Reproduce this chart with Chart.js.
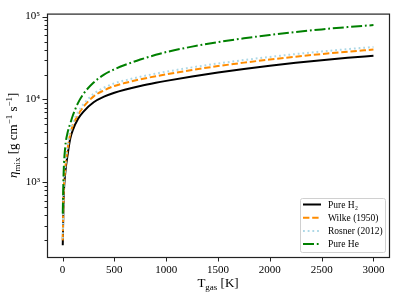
<!DOCTYPE html>
<html>
<head>
<meta charset="utf-8">
<script src="https://cdn.jsdelivr.net/npm/chart.js@4/dist/chart.umd.min.js"></script>
<style>
html, body { margin: 0; padding: 0; background: #fff; }
canvas { display: block; }
</style>
</head>
<body>
<canvas id="chartVisc" width="399" height="298"></canvas>
<script>
// values (K, g cm^-1 s^-1)
const temps  = [2, 10, 25, 50, 75, 100, 150, 200, 300, 400, 500, 600, 750, 900, 1000, 1250, 1500, 1750, 2000, 2250, 2500, 2750, 3000];
const pureH2 = [175, 600, 1250, 2200, 3400, 4300, 5850, 7100, 9250, 10800, 12050, 13100, 14530, 15880, 16750, 18950, 21150, 23350, 25500, 27650, 29750, 31800, 33700];
const wilke  = [200, 700, 1400, 2600, 3850, 4900, 6550, 8100, 10900, 12900, 14550, 15790, 17480, 19070, 20100, 22680, 25250, 27810, 30310, 32820, 35270, 37650, 40000];
const rosner = [210, 750, 1500, 2800, 4150, 5250, 7050, 8700, 11700, 13850, 15640, 16970, 18790, 20500, 21610, 24380, 27140, 29900, 32580, 35280, 37920, 40470, 42990];
const pureHe = [420, 1250, 2600, 4050, 5150, 6450, 9100, 11600, 16000, 19900, 23100, 26010, 30290, 34540, 37270, 43380, 49090, 54570, 59900, 65100, 70000, 74600, 78900];

const seriesLabels = ['Pure H₂', 'Wilke (1950)', 'Rosner (2012)', 'Pure He'];
const xTicks = [0, 500, 1000, 1500, 2000, 2500, 3000];
const yMajorTicks = [1e3, 1e4, 1e5];

const SERIF = '"Liberation Serif", "DejaVu Serif", serif';
const SUP = { '0': '⁰', '1': '¹', '2': '²', '3': '³', '4': '⁴', '5': '⁵', '6': '⁶' };

function pts(ys) {
    return temps.map((t, i) => ({ x: t, y: ys[i] }));
}

// frame, tick marks, axis titles and the boxed legend
const decorations = {
    id: 'decorations',
    afterDraw(chart) {
        const ctx = chart.ctx;
        const a = chart.chartArea;
        const xs = chart.scales.x, ys = chart.scales.y;
        ctx.save();

        // ticks
        ctx.strokeStyle = '#222';
        ctx.lineWidth = 1;
        ctx.beginPath();
        xTicks.forEach(v => {
            const px = Math.round(xs.getPixelForValue(v)) + 0.5;
            ctx.moveTo(px, a.bottom); ctx.lineTo(px, a.bottom + 4.5);
        });
        for (let e = 2; e <= 5; e++) {
            for (let k = 1; k <= 9; k++) {
                const v = k * Math.pow(10, e);
                if (v < ys.min || v > ys.max) continue;
                const py = Math.round(ys.getPixelForValue(v)) + 0.5;
                const len = k === 1 ? 4.5 : 2.5;
                ctx.moveTo(a.left, py); ctx.lineTo(a.left - len, py);
            }
        }
        ctx.stroke();

        // frame
        ctx.lineWidth = 1.2;
        ctx.strokeStyle = '#222';
        ctx.strokeRect(a.left + 0.5, a.top + 0.5, a.right - a.left, a.bottom - a.top);

        // x title: T_gas [K]
        ctx.fillStyle = '#000';
        ctx.textBaseline = 'alphabetic';
        const xParts = [
            { t: 'T', f: '13px ' + SERIF, dy: 0 },
            { t: 'gas', f: '9px ' + SERIF, dy: 3 },
            { t: ' [K]', f: '13px ' + SERIF, dy: 0 }
        ];
        drawParts(ctx, xParts, (a.left + a.right) / 2, 287);

        // y title: eta_mix [g cm^-1 s^-1]
        ctx.translate(17, (a.top + a.bottom) / 2);
        ctx.rotate(-Math.PI / 2);
        const yParts = [
            { t: 'η', f: 'italic 13px ' + SERIF, dy: 0 },
            { t: 'mix', f: '9px ' + SERIF, dy: 3 },
            { t: ' [g cm', f: '13px ' + SERIF, dy: 0 },
            { t: '−1', f: '9px ' + SERIF, dy: -5 },
            { t: ' s', f: '13px ' + SERIF, dy: 0 },
            { t: '−1', f: '9px ' + SERIF, dy: -5 },
            { t: ']', f: '13px ' + SERIF, dy: 0 }
        ];
        drawParts(ctx, yParts, 0, 0);
        ctx.setTransform(1, 0, 0, 1, 0, 0);

        // legend
        const bx = 300.5, by = 198.5, bw = 85, bh = 54;
        ctx.beginPath();
        ctx.roundRect(bx, by, bw, bh, 2);
        ctx.fillStyle = 'rgba(255,255,255,0.85)';
        ctx.fill();
        ctx.strokeStyle = '#d0d0d0';
        ctx.lineWidth = 1;
        ctx.stroke();

        ctx.font = '9.5px ' + SERIF;
        ctx.textBaseline = 'middle';
        chart.data.datasets.forEach((ds, i) => {
            const ry = 204.5 + i * 13.2;
            ctx.beginPath();
            ctx.setLineDash(ds.borderDash || []);
            ctx.strokeStyle = ds.borderColor;
            ctx.lineWidth = ds.borderWidth;
            ctx.moveTo(303, ry); ctx.lineTo(321, ry);
            ctx.stroke();
            ctx.setLineDash([]);
            ctx.fillStyle = '#000';
            ctx.fillText(ds.label, 328, ry + 0.5);
        });
        ctx.restore();
    }
};

function drawParts(ctx, parts, cx, baseY) {
    let total = 0;
    parts.forEach(p => { ctx.font = p.f; total += ctx.measureText(p.t).width; });
    let x = cx - total / 2;
    parts.forEach(p => {
        ctx.font = p.f;
        ctx.fillText(p.t, x, baseY + p.dy);
        x += ctx.measureText(p.t).width;
    });
}

const lineBase = { fill: false, pointRadius: 0, borderWidth: 2, cubicInterpolationMode: 'monotone', borderCapStyle: 'butt' };

new Chart(document.getElementById('chartVisc').getContext('2d'), {
    type: 'line',
    data: {
        datasets: [
            { ...lineBase, label: seriesLabels[0], data: pts(pureH2), borderColor: '#000000', order: 4 },
            { ...lineBase, label: seriesLabels[1], data: pts(wilke), borderColor: '#ff8c00', borderDash: [6.4, 2.8], order: 3 },
            { ...lineBase, label: seriesLabels[2], data: pts(rosner), borderColor: '#add8e6', borderDash: [1.8, 2.9], order: 2 },
            { ...lineBase, label: seriesLabels[3], data: pts(pureHe), borderColor: '#008000', borderDash: [11, 2.8, 1.8, 2.8], order: 1 }
        ]
    },
    options: {
        responsive: false,
        animation: false,
        layout: { padding: { top: 9, right: 10, left: 0, bottom: 0 } },
        plugins: { legend: { display: false }, tooltip: { enabled: false } },
        scales: {
            x: {
                type: 'linear', min: -150, max: 3150,
                afterBuildTicks: s => { s.ticks = xTicks.map(v => ({ value: v })); },
                afterFit: s => { s.height = 41; },
                grid: { display: false, drawTicks: false },
                border: { display: false },
                ticks: { color: '#000', font: { family: SERIF, size: 11 }, padding: 7, maxRotation: 0, callback: v => String(v) }
            },
            y: {
                type: 'logarithmic', min: 126, max: 108500,
                afterBuildTicks: s => { s.ticks = yMajorTicks.map(v => ({ value: v })); },
                afterFit: s => { s.width = 47; },
                grid: { display: false, drawTicks: false },
                border: { display: false },
                ticks: {
                    color: '#000', font: { family: SERIF, size: 11 }, padding: 7,
                    callback: v => '10' + SUP[String(Math.round(Math.log10(v)))]
                }
            }
        }
    },
    plugins: [decorations]
});
</script>
</body>
</html>
